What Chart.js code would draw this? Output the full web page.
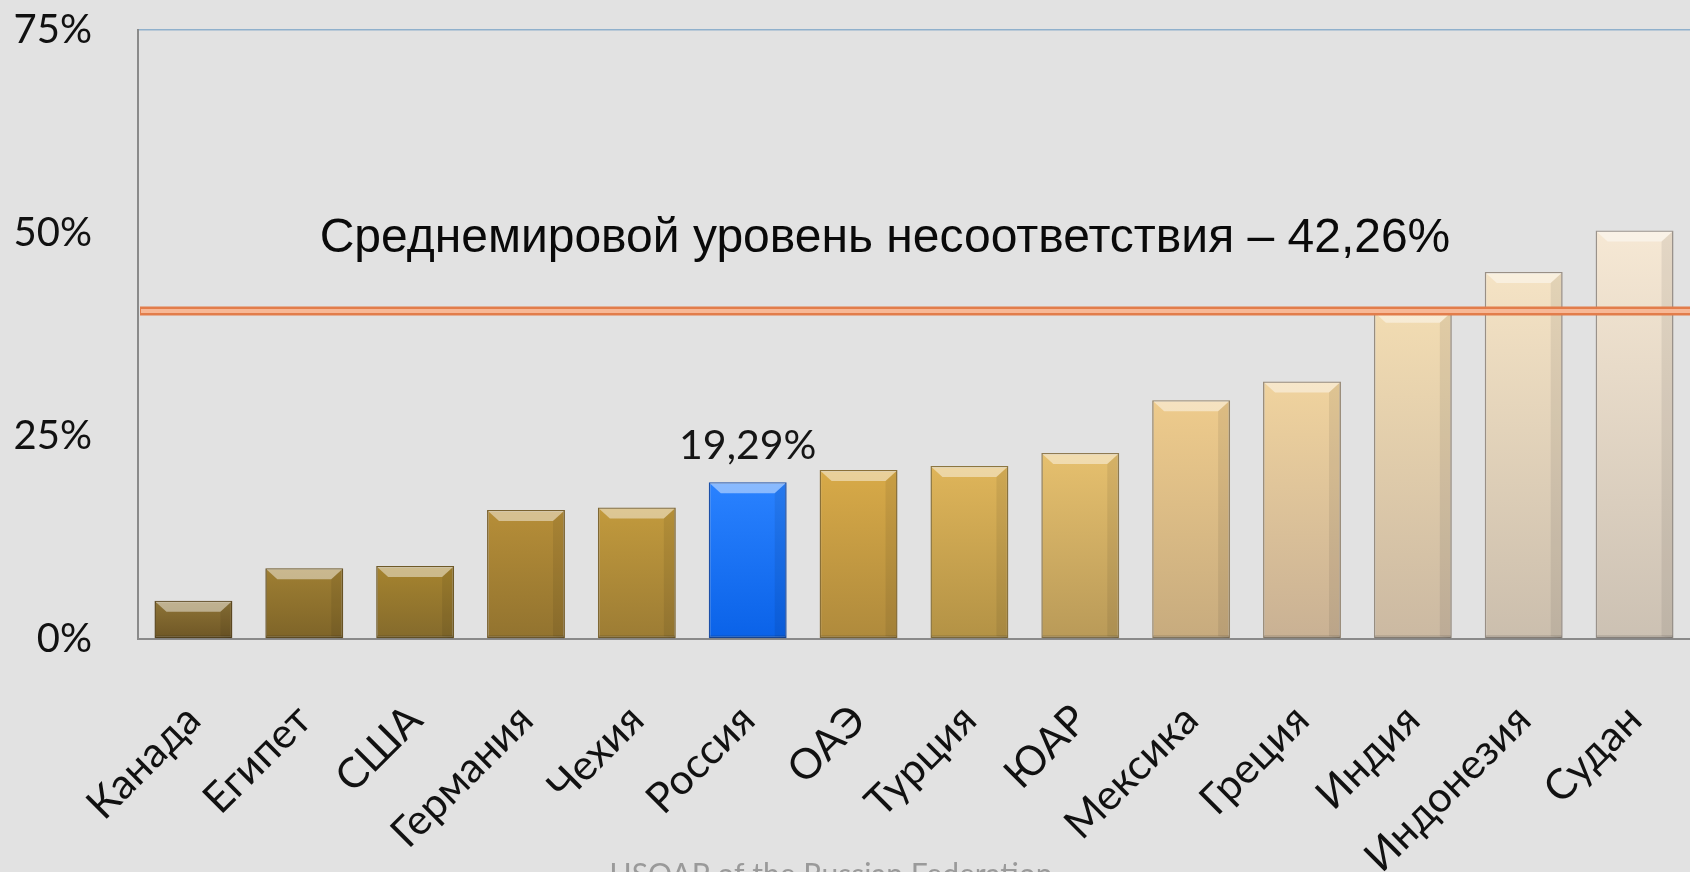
<!DOCTYPE html>
<html>
<head>
<meta charset="utf-8">
<script src="https://cdn.jsdelivr.net/npm/chart.js@4"></script>
<style>
  html, body { margin: 0; padding: 0; background: #e2e2e2; }
  #wrap { width: 1690px; height: 872px; position: relative; }
</style>
</head>
<body>
<div id="wrap"><canvas id="canvas"></canvas></div>
<script>
// data
const countries = ['Канада', 'Египет', 'США', 'Германия', 'Чехия', 'Россия', 'ОАЭ',
                   'Турция', 'ЮАР', 'Мексика', 'Греция', 'Индия', 'Индонезия', 'Судан'];
const lackPct = [4.7, 8.7, 9.0, 15.9, 16.2, 19.29, 20.8, 21.3, 22.9, 29.4, 31.7, 40.3, 45.2, 50.3];
const yTicks = [0, 25, 50, 75];
const worldAvgLine = 40.4;           // where the orange line sits on the axis
const worldAvgText = 'Среднемировой уровень несоответствия – 42,26%';
const labelledBar = 'Россия';
const footerText = 'USOAP of the Russian Federation';

// bar colours, top -> bottom of each bar
const barTop = ['#8e7437', '#9f7f33', '#a6842f', '#b68e38', '#c29a3d', '#2a82ff', '#d8aa48',
                '#dfb55a', '#e6c06e', '#eecb8c', '#f0d39e', '#f2dcb2', '#f5e3c4', '#f6e8d4'];
const barBottom = ['#6e5625', '#7e6428', '#846a2c', '#92732f', '#9c7c34', '#0a62e8', '#af8a3c',
                   '#b39245', '#b99a58', '#c7ab7e', '#c9b194', '#cbb9a2', '#cbbead', '#ccc1b3'];
const barEdge = ['#5e4a22', '#6a5526', '#6f5a28', '#7a6230', '#7f6834', '#1b4fa8', '#8a7038',
                 '#8c7640', '#8f7b52', '#958468', '#968875', '#978d80', '#998f85', '#9a928a'];

function fmtPct(v) {
  return v.toFixed(2).replace('.', ',') + '%';
}

const extras = {
  id: 'extras',
  afterDatasetsDraw(chart) {
    const c = chart.ctx;
    const area = chart.chartArea;
    const meta = chart.getDatasetMeta(0);
    // bevel on each bar
    meta.data.forEach(function (bar) {
      const l = bar.x - bar.width / 2, r = bar.x + bar.width / 2;
      const t = bar.y, b = bar.base;
      const bv = Math.min(11, (b - t) / 3);
      c.save();
      c.fillStyle = 'rgba(255,255,255,0.45)';
      c.beginPath();
      c.moveTo(l + 1, t + 1); c.lineTo(r - 1, t + 1); c.lineTo(r - 1 - bv, t + bv); c.lineTo(l + 1 + bv, t + bv);
      c.closePath(); c.fill();
      c.fillStyle = 'rgba(0,0,0,0.07)';
      c.beginPath();
      c.moveTo(r - 1, t + 1); c.lineTo(r - 1, b); c.lineTo(r - 1 - bv, b - 2); c.lineTo(r - 1 - bv, t + bv);
      c.closePath(); c.fill();
      c.fillStyle = 'rgba(0,0,0,0.12)';
      c.fillRect(l + 1, b - 3, r - l - 2, 3);
      c.restore();
    });

    // value label above Россия
    const idx = countries.indexOf(labelledBar);
    const el = meta.data[idx];
    c.save();
    c.font = '41px Lato';
    c.fillStyle = '#151515';
    c.textAlign = 'center';
    c.textBaseline = 'alphabetic';
    c.fillText(fmtPct(lackPct[idx]), el.x, el.y - 23);
    c.restore();

    // world average line
    const ly = chart.scales.y.getPixelForValue(worldAvgLine);
    c.save();
    c.lineCap = 'butt';
    c.strokeStyle = '#e27d4b';
    c.lineWidth = 9;
    c.beginPath(); c.moveTo(area.left + 2, ly); c.lineTo(chart.width, ly); c.stroke();
    c.strokeStyle = '#f7b896';
    c.lineWidth = 4;
    c.beginPath(); c.moveTo(area.left + 3, ly); c.lineTo(chart.width, ly); c.stroke();
    c.restore();

    // caption above the line
    c.save();
    c.font = '48px "Liberation Sans", Arial, sans-serif';
    c.fillStyle = '#0a0a0a';
    c.textAlign = 'center';
    c.textBaseline = 'alphabetic';
    c.fillText(worldAvgText, area.left + 747, ly - 59);
    c.restore();

    // footer, cut off by the bottom edge
    c.save();
    c.font = '30px Lato';
    c.fillStyle = '#9a9a9a';
    c.textAlign = 'center';
    c.fillText(footerText, 831, chart.height + 13);
    c.restore();
  }
};

const ctx = document.getElementById('canvas').getContext('2d');
const chart = new Chart(ctx, {
  type: 'bar',
  data: {
    labels: countries,
    datasets: [{
      data: lackPct,
      backgroundColor: function (context) {
        const ch = context.chart;
        const i = context.dataIndex;
        if (!ch.chartArea || context.raw === undefined) return barTop[i];
        const ys = ch.scales.y;
        const top = ys.getPixelForValue(context.raw);
        const base = ys.getPixelForValue(0);
        const g = ch.ctx.createLinearGradient(0, top, 0, base);
        g.addColorStop(0, barTop[i]);
        g.addColorStop(1, barBottom[i]);
        return g;
      },
      borderColor: barEdge,
      borderWidth: 1.5,
      borderSkipped: false,
      categoryPercentage: 1,
      barPercentage: 0.703
    }]
  },
  options: {
    responsive: true,
    maintainAspectRatio: false,
    animation: false,
    layout: { padding: { top: 30, left: 0, right: 0, bottom: 0 } },
    plugins: {
      legend: { display: false },
      tooltip: { enabled: false }
    },
    scales: {
      x: {
        grid: { display: false, drawTicks: false },
        border: { display: true, color: '#8a8a8a', width: 2 },
        ticks: {
          autoSkip: false,
          maxRotation: 45,
          minRotation: 45,
          padding: 56,
          color: '#111',
          font: { family: 'Lato', size: 42 }
        },
        afterFit: function (scale) {
          scale.height = 233;
          scale.paddingLeft = 0;
          scale.paddingRight = 0;
        }
      },
      y: {
        min: 0,
        max: 75,
        afterBuildTicks: function (scale) {
          scale.ticks = yTicks.map(function (v) { return { value: v }; });
        },
        grid: {
          drawTicks: false,
          color: function (c) { return c.tick && c.tick.value === 75 ? '#8fb0cc' : 'rgba(0,0,0,0)'; },
          lineWidth: 1.5
        },
        border: { display: true, color: '#8a8a8a', width: 2 },
        ticks: {
          padding: 46,
          color: '#111',
          font: { family: 'Lato', size: 40 },
          callback: function (v) { return v + '%'; }
        },
        afterFit: function (scale) {
          scale.width = 138;
          scale.paddingTop = 0;
          scale.paddingBottom = 0;
        }
      }
    }
  },
  plugins: [extras]
});
</script>
</body>
</html>
